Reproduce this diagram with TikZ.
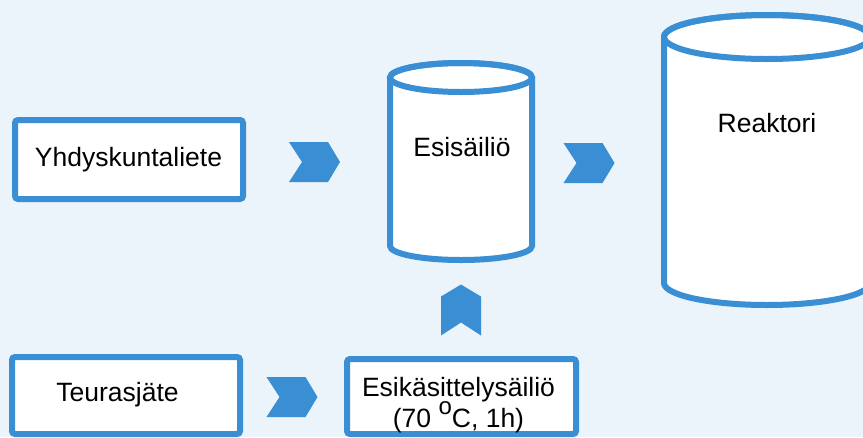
\documentclass[tikz,border=0pt]{standalone}
\usepackage{fontspec}
\setmainfont{Liberation Sans}
\definecolor{mblue}{RGB}{58,143,212}
\definecolor{bgblue}{RGB}{235,243,251}
\tikzset{
  box/.style={draw=mblue, fill=white, line width=6pt, rounded corners=3pt, inner sep=0pt},
  lbl/.style={font=\fontsize{26.5}{31}\selectfont, text=black, inner sep=0pt, align=center},
  tank/.style={draw=mblue, fill=white, line width=6pt},
  chev/.pic={\fill[mblue] (-25.5pt,-20pt)--(13.5pt,-20pt)--(25.5pt,0pt)--(13.5pt,20pt)--(-25.5pt,20pt)--(-12.5pt,0pt)--cycle;}
}
\begin{document}
\begin{tikzpicture}[x=1pt,y=1pt]
\fill[bgblue] (0,0) rectangle (863,-437);
\useasboundingbox (0,0) rectangle (863,-437);
% boxes
\node[box, minimum width=228pt, minimum height=79pt] (yh) at (129,-159.5) {};
\node[lbl] (yht) at (128.5,-160) {Yhdyskuntaliete};
\node[box, minimum width=228pt, minimum height=77pt] (te) at (126,-395.5) {};
\node[lbl] (tet) at (117.5,-395) {Teurasjäte};
\node[box, minimum width=229pt, minimum height=75pt] (es) at (461.5,-396.5) {};
\node[lbl] (est) at (458.5,-405.5) {Esikäsittelysäiliö\\(70 \smash{\raisebox{13pt}{\fontsize{24}{24}\selectfont o}}C, 1h)};
% Esisailio cylinder
\path[tank] (390,-77.5) -- (390,-246) arc[start angle=180,end angle=360,x radius=71pt,y radius=14pt]
  -- (532,-77.5) arc[start angle=0,end angle=180,x radius=71pt,y radius=14.5pt] -- cycle;
\draw[mblue, line width=6pt] (461,-77.5) ellipse[x radius=71pt,y radius=14.5pt];
\node[lbl] (esi) at (462,-147) {Esisäiliö};
% Reaktori cylinder
\path[tank] (664,-37) -- (664,-283) arc[start angle=180,end angle=360,x radius=103pt,y radius=22pt]
  -- (870,-37) arc[start angle=0,end angle=180,x radius=103pt,y radius=22pt] -- cycle;
\draw[mblue, line width=6pt] (767,-37) ellipse[x radius=103pt,y radius=22pt];
\node[lbl] (rea) at (767,-123) {Reaktori};
% chevrons
\pic at (314.5,-162) {chev};
\pic at (589,-163) {chev};
\pic at (292,-397) {chev};
\pic[rotate=90] at (461,-310) {chev};
\end{tikzpicture}
\end{document}
